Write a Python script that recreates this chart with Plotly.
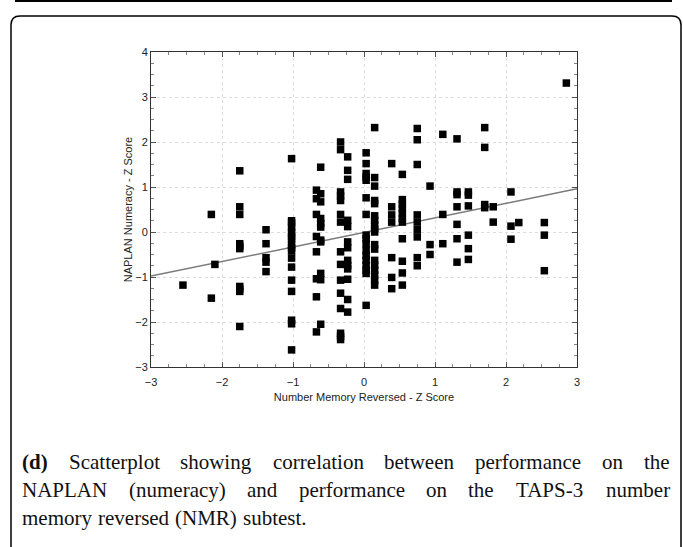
import plotly.graph_objects as go

# ---- data ----
nmr_z = (
    [-2.55] + [-2.15] * 2 + [-2.10]
    + [-1.75] * 10 + [-1.38] * 5 + [-1.02] * 17
    + [-0.67] * 8 + [-0.61] * 11 + [-0.33] * 15 + [-0.23] * 13
    + [0.03] * 17 + [0.15] * 18 + [0.39] * 7 + [0.54] * 11 + [0.75] * 9
    + [0.93] * 3 + [1.11] * 3 + [1.31] * 7 + [1.47] * 6 + [1.70] * 4
    + [1.82] * 2 + [2.07] * 3 + [2.18] + [2.54] * 3 + [2.85]
)
naplan_z = (
    [-1.18]
    + [0.39, -1.47]
    + [-0.72]
    + [1.36, 0.56, 0.39, -0.26, -0.32, -0.37, -1.21, -1.26, -1.32, -2.10]
    + [0.05, -0.26, -0.57, -0.67, -0.88]
    + [1.63, 0.25, 0.20, 0.10, 0.0, -0.10, -0.15, -0.28, -0.35, -0.42, -0.58,
       -0.78, -1.07, -1.32, -1.96, -2.04, -2.62]
    + [0.93, 0.74, 0.39, -0.10, -0.44, -1.04, -1.44, -2.22]
    + [1.44, 0.85, 0.67, 0.30, 0.19, 0.11, -0.18, -0.22, -0.92, -1.06, -2.05]
    + [2.00, 1.83, 0.89, 0.80, 0.70, 0.39, 0.22, -0.44, -0.72, -1.07, -1.36,
       -1.70, -2.25, -2.32, -2.39]
    + [1.67, 1.37, 1.17, 0.26, 0.12, -0.22, -0.35, -0.63, -0.74, -0.82, -1.05,
       -1.50, -1.78]
    + [1.76, 1.52, 1.30, 1.22, 1.15, 0.76, 0.39, -0.07, -0.15, -0.26, -0.41,
       -0.52, -0.63, -0.74, -0.85, -0.92, -1.63]
    + [2.32, 1.21, 1.02, 0.70, 0.63, 0.36, 0.26, 0.16, 0.07, 0.0, -0.28, -0.38,
       -0.63, -0.74, -0.85, -0.96, -1.07, -1.18]
    + [1.52, 0.56, 0.38, 0.22, -0.57, -1.01, -1.26]
    + [1.28, 0.72, 0.62, 0.52, 0.41, 0.30, 0.22, -0.15, -0.65, -0.91, -1.18]
    + [2.30, 2.05, 1.50, 0.38, 0.22, 0.05, -0.11, -0.57, -0.75]
    + [1.02, -0.28, -0.50]
    + [2.17, 0.39, -0.26]
    + [2.07, 0.89, 0.83, 0.56, 0.17, -0.15, -0.67]
    + [0.89, 0.82, 0.58, -0.07, -0.37, -0.61]
    + [2.32, 1.88, 0.61, 0.54]
    + [0.56, 0.22]
    + [0.89, 0.13, -0.16]
    + [0.21]
    + [0.21, -0.07, -0.86]
    + [3.31]
)
fit_x = [-3, 3]
fit_y = [-0.98, 0.96]

x_ticks = [-3, -2, -1, 0, 1, 2, 3]
y_ticks = [-3, -2, -1, 0, 1, 2, 3, 4]

x_title = "Number Memory Reversed - Z Score"
y_title = "NAPLAN Numeracy - Z Score"
caption_lines = [
    ["<b>(d)</b>", "Scatterplot", "showing", "correlation", "between", "performance", "on", "the"],
    ["NAPLAN", "(numeracy)", "and", "performance", "on", "the", "TAPS-3", "number"],
    ["memory", "reversed", "(NMR)", "subtest."],
]

# ---- layout geometry (pixels) ----
W, H = 683, 547
L, R, T, B = 151, 106, 52, 180
PW, PH = W - L - R, H - T - B


def px_x(px):
    return (px - L) / PW


def px_y(py):
    return (H - B - py) / PH


fig = go.Figure()
fig.add_trace(go.Scatter(
    x=fit_x, y=fit_y, mode="lines",
    line=dict(color="#7a7a7a", width=1.5), hoverinfo="skip",
))
fig.add_trace(go.Scatter(
    x=nmr_z, y=naplan_z, mode="markers",
    marker=dict(symbol="square", size=7.5, color="black"),
))

axis_font = dict(family="Liberation Sans, Arial", size=11, color="#222222")
axis_common = dict(
    showline=True, linecolor="#333333", linewidth=1, mirror="ticks",
    ticks="inside", ticklen=5, tickcolor="#555555",
    showgrid=True, gridcolor="#dcdcdc", griddash="dot", gridwidth=1,
    zeroline=False, tickfont=axis_font,
    minor=dict(dtick=0.25, ticks="inside", ticklen=3, tickcolor="#888888", showgrid=False),
)
fig.update_xaxes(range=[-3, 3], tickvals=x_ticks, ticklabelstandoff=5, **axis_common,
                 title=dict(text=x_title, standoff=6, font=axis_font))
fig.update_yaxes(range=[-3, 4], tickvals=y_ticks, **axis_common,
                 title=dict(text=y_title, standoff=0, font=axis_font))

# ---- frame & top rule ----
fl, ft, fr, fb, rad = 11, 16, 681, 570, 9
path = (f"M {px_x(fl)},{px_y(fb)} L {px_x(fl)},{px_y(ft + rad)} "
        f"Q {px_x(fl)},{px_y(ft)} {px_x(fl + rad)},{px_y(ft)} "
        f"L {px_x(fr - rad)},{px_y(ft)} Q {px_x(fr)},{px_y(ft)} {px_x(fr)},{px_y(ft + rad)} "
        f"L {px_x(fr)},{px_y(fb)}")
shapes = [
    dict(type="path", xref="paper", yref="paper", path=path,
         line=dict(color="black", width=1.5)),
    dict(type="line", xref="paper", yref="paper", x0=px_x(15), x1=px_x(672),
         y0=px_y(1), y1=px_y(1), line=dict(color="black", width=2)),
]

# ---- caption (justified by word placement) ----
times_w = {
    'a': 444, 'b': 500, 'c': 444, 'd': 500, 'e': 444, 'f': 333, 'g': 500, 'h': 500,
    'i': 278, 'j': 278, 'k': 500, 'l': 278, 'm': 778, 'n': 500, 'o': 500, 'p': 500,
    'q': 500, 'r': 333, 's': 389, 't': 278, 'u': 500, 'v': 500, 'w': 722, 'x': 500,
    'y': 500, 'z': 444, '(': 333, ')': 333, '-': 333, '.': 250, '3': 500,
    'A': 722, 'C': 667, 'L': 611, 'M': 889, 'N': 722, 'P': 556, 'R': 667, 'S': 556, 'T': 611,
}
fs = 21
cap_left, cap_right = 20, 668
line_y = [462, 490, 518]


def wwidth(word):
    plain = word.replace("<b>", "").replace("</b>", "")
    bold = "<b>" in word
    tot = 0
    for ch in plain:
        w = times_w.get(ch, 500)
        if bold and ch == 'd':
            w = 556
        tot += w
    return tot / 1000 * fs


annotations = []
for i, words in enumerate(caption_lines):
    widths = [wwidth(w) for w in words]
    if i < 2:
        gap = (cap_right - cap_left - sum(widths)) / (len(words) - 1)
    else:
        gap = 0.25 * fs * 1.15
    xpos = cap_left
    for w, ww in zip(words, widths):
        annotations.append(dict(
            xref="paper", yref="paper", x=px_x(xpos), y=px_y(line_y[i]),
            xanchor="left", yanchor="middle", showarrow=False, text=w,
            font=dict(family="Liberation Serif, Times New Roman", size=fs, color="#111111"),
        ))
        xpos += ww + gap

fig.update_layout(
    width=W, height=H, margin=dict(l=L, r=R, t=T, b=B),
    paper_bgcolor="white", plot_bgcolor="white", showlegend=False,
    shapes=shapes, annotations=annotations,
)

fig.write_html(
    "out.html",
    config={"displayModeBar": False},
    post_script="document.body.style.margin='0';document.body.style.padding='0';",
)
